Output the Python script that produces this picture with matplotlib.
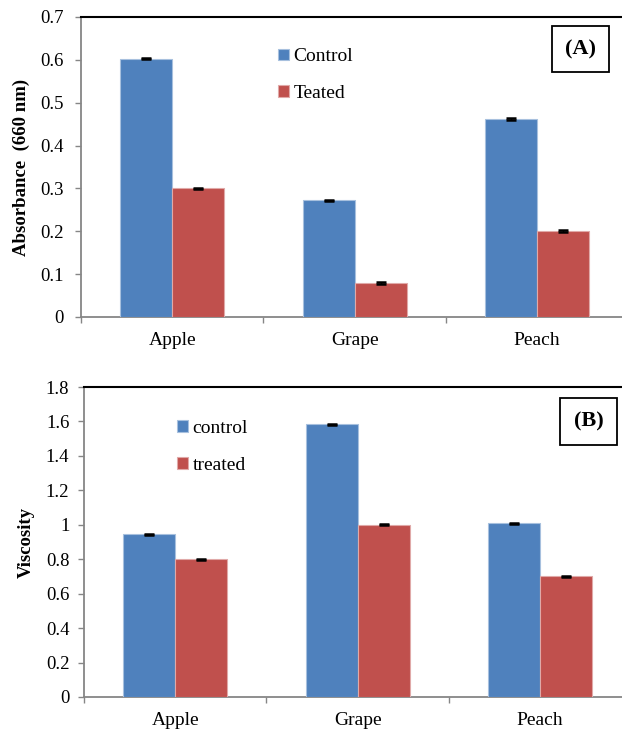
import matplotlib.pyplot as plt
import numpy as np
from matplotlib.ticker import FormatStrFormatter, FixedLocator

plt.rcParams['font.family'] = ['Liberation Serif', 'DejaVu Serif']

fruits = ['Apple', 'Grape', 'Peach']

# Panel A - absorbance at 660 nm
abs_control = [0.603, 0.272, 0.462]
abs_treated = [0.300, 0.080, 0.200]
abs_control_err = [0.002, 0.002, 0.002]
abs_treated_err = [0.002, 0.002, 0.002]

# Panel B - viscosity
visc_control = [0.945, 1.583, 1.010]
visc_treated = [0.800, 1.000, 0.700]
visc_control_err = [0.004, 0.003, 0.003]
visc_treated_err = [0.003, 0.003, 0.003]

blue = '#4F81BD'
red = '#C0504D'
grey = '#868686'

fig = plt.figure(figsize=(6.22, 7.29), dpi=100)
ax1 = fig.add_axes([0.1302, 0.5652, 0.880, 0.4115])
ax2 = fig.add_axes([0.1350, 0.0439, 0.880, 0.4252])


def draw_panel(ax, control, treated, c_err, t_err, labels, ylabel, ymax, ystep, tag,
               leg_xy, tag_xy, label_x, ypad):
    x = np.arange(len(fruits)) + 0.5
    w = 0.285
    ax.bar(x - w / 2, control, w, color=blue, edgecolor='#A7C0DE', linewidth=0.8,
           yerr=c_err, capsize=3.5, error_kw=dict(elinewidth=1, capthick=1.8, ecolor='black'),
           label=labels[0], zorder=3)
    ax.bar(x + w / 2, treated, w, color=red, edgecolor='#E0A9A8', linewidth=0.8,
           yerr=t_err, capsize=3.5, error_kw=dict(elinewidth=1, capthick=1.8, ecolor='black'),
           label=labels[1], zorder=3)

    ax.set_xlim(0, 3)
    ax.set_ylim(0, ymax)
    ax.set_yticks(np.arange(0, ymax + ystep / 2, ystep))
    ax.yaxis.set_major_formatter(FormatStrFormatter('%g'))
    ax.set_xticks(x)
    ax.set_xticklabels(fruits)
    ax.xaxis.set_minor_locator(FixedLocator([0, 1, 2, 3]))

    ax.tick_params(axis='x', which='major', length=0, pad=10.5, labelsize=14)
    ax.tick_params(axis='x', which='minor', length=4, width=1, color=grey, direction='out')
    ax.tick_params(axis='y', length=4, width=1, color=grey, direction='out', pad=ypad, labelsize=13.5)

    for s in ['left', 'bottom']:
        ax.spines[s].set_color(grey)
        ax.spines[s].set_linewidth(1.3)
    ax.spines['top'].set_color('black')
    ax.spines['top'].set_linewidth(1.5)
    ax.spines['right'].set_visible(False)

    ax.set_ylabel(ylabel, fontsize=13.5, fontweight='bold')
    ax.yaxis.set_label_coords(label_x, 0.5)

    ax.legend(loc='upper left', bbox_to_anchor=leg_xy, frameon=False, fontsize=14,
              handlelength=0.55, handleheight=0.55, handletextpad=0.25,
              labelspacing=1.0, borderpad=0, borderaxespad=0)

    ax.text(tag_xy[0], tag_xy[1], tag, transform=ax.transAxes, ha='center', va='center',
            fontsize=16, fontweight='bold',
            bbox=dict(boxstyle='square,pad=0.6', facecolor='white', edgecolor='black', linewidth=1.3))


draw_panel(ax1, abs_control, abs_treated, abs_control_err, abs_treated_err,
           ['Control', 'Teated'], 'Absorbance  (660 nm)', 0.7, 0.1, '(A)',
           (0.360, 0.895), (0.9125, 0.893), -0.093, 8.5)
draw_panel(ax2, visc_control, visc_treated, visc_control_err, visc_treated_err,
           ['control', 'treated'], 'Viscosity', 1.8, 0.2, '(B)',
           (0.170, 0.893), (0.922, 0.888), -0.089, 6.5)

fig.savefig('out.png', dpi=100)
